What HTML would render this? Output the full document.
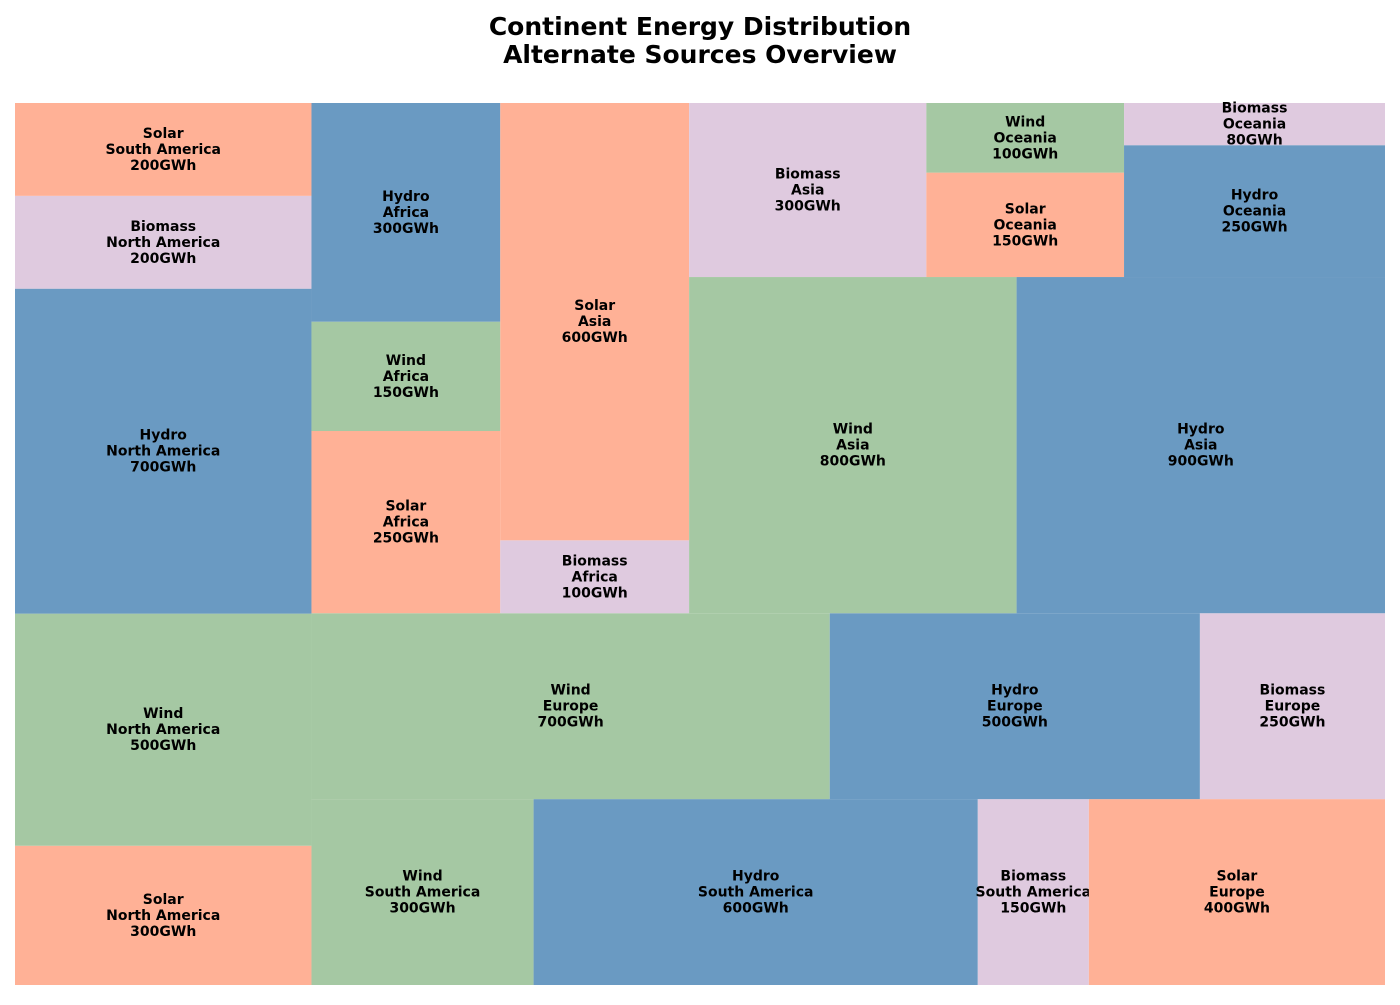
<!DOCTYPE html>
<html><head><meta charset="utf-8">
<style>
body{margin:0;background:#fff;width:1400px;height:1000px;overflow:hidden}
svg text{font-family:"DejaVu Sans","Liberation Sans",sans-serif;font-weight:bold}
</style></head>
<body>
<svg id="chart" width="1400" height="1000" xmlns="http://www.w3.org/2000/svg">
<text x="700" y="35" text-anchor="middle" font-size="25">Continent Energy Distribution</text>
<text x="700" y="63" text-anchor="middle" font-size="25">Alternate Sources Overview</text>
<g id="tiles"></g>
</svg>
<script>
const sources = ["Solar","Wind","Hydro","Biomass","Solar","Wind","Hydro","Biomass","Solar","Wind","Hydro","Biomass","Solar","Wind","Hydro","Biomass","Solar","Wind","Hydro","Biomass","Solar","Wind","Hydro","Biomass"];
const continents = ["North America","North America","North America","North America","South America","South America","South America","South America","Europe","Europe","Europe","Europe","Africa","Africa","Africa","Africa","Asia","Asia","Asia","Asia","Oceania","Oceania","Oceania","Oceania"];
const values = [300,500,700,200,200,300,600,150,400,700,500,250,250,150,300,100,600,800,900,300,150,100,250,80];
const colors = {Solar:"#ffb196",Wind:"#a5c8a3",Hydro:"#6a9ac2",Biomass:"#dfcadf"};

const X0=15,X1=1385,Y0=103,Y1=985;
const W=X1-X0,H=Y1-Y0;
const N=100;
function sx(x){return X0+x*W/N;}
function sy(y){return Y1-y*H/N;}

function layoutrow(s,x,y,dx,dy){const a=s.reduce((p,c)=>p+c,0);const w=a/dy;const r=[];for(const v of s){r.push({x,y,dx:w,dy:v/w});y+=v/w;}return r;}
function layoutcol(s,x,y,dx,dy){const a=s.reduce((p,c)=>p+c,0);const h=a/dx;const r=[];for(const v of s){r.push({x,y,dx:v/h,dy:h});x+=v/h;}return r;}
function layout(s,x,y,dx,dy){return dx>=dy?layoutrow(s,x,y,dx,dy):layoutcol(s,x,y,dx,dy);}
function leftover(s,x,y,dx,dy){const a=s.reduce((p,c)=>p+c,0);if(dx>=dy){const w=a/dy;return [x+w,y,dx-w,dy];}const h=a/dx;return [x,y+h,dx,dy-h];}
function worst(s,x,y,dx,dy){return Math.max(...layout(s,x,y,dx,dy).map(r=>Math.max(r.dx/r.dy,r.dy/r.dx)));}
function squarify(s,x,y,dx,dy){
  if(!s.length)return[];
  if(s.length===1)return layout(s,x,y,dx,dy);
  let i=1;
  while(i<s.length&&worst(s.slice(0,i),x,y,dx,dy)>=worst(s.slice(0,i+1),x,y,dx,dy))i++;
  const cur=s.slice(0,i),rem=s.slice(i);
  const lo=leftover(cur,x,y,dx,dy);
  return layout(cur,x,y,dx,dy).concat(squarify(rem,lo[0],lo[1],lo[2],lo[3]));
}
const total=values.reduce((a,b)=>a+b,0);
const norm=values.map(v=>v*N*N/total);
const rects=squarify(norm,0,0,N,N);
const g=document.getElementById('tiles');
const NS="http://www.w3.org/2000/svg";
rects.forEach((r,i)=>{
  const grp=document.createElementNS(NS,'g');
  
  
  const rc=document.createElementNS(NS,'rect');
  
  
  rc.setAttribute('x',sx(r.x));rc.setAttribute('y',sy(r.y+r.dy));
  rc.setAttribute('width',sx(r.x+r.dx)-sx(r.x));rc.setAttribute('height',sy(r.y)-sy(r.y+r.dy));
  rc.setAttribute('fill',colors[sources[i]]);
  grp.appendChild(rc);
  const cx=sx(r.x+r.dx/2),cy=sy(r.y+r.dy/2);
  const lines=[sources[i],continents[i],values[i]+'GWh'];
  lines.forEach((t,k)=>{
    const tx=document.createElementNS(NS,'text');
    
    
    tx.setAttribute('x',cx);tx.setAttribute('y',cy+(k-1)*16+4.5);
    tx.setAttribute('text-anchor','middle');tx.setAttribute('font-size','14');
    tx.textContent=t;grp.appendChild(tx);
  });
  g.appendChild(grp);
});
</script>
</body></html>
